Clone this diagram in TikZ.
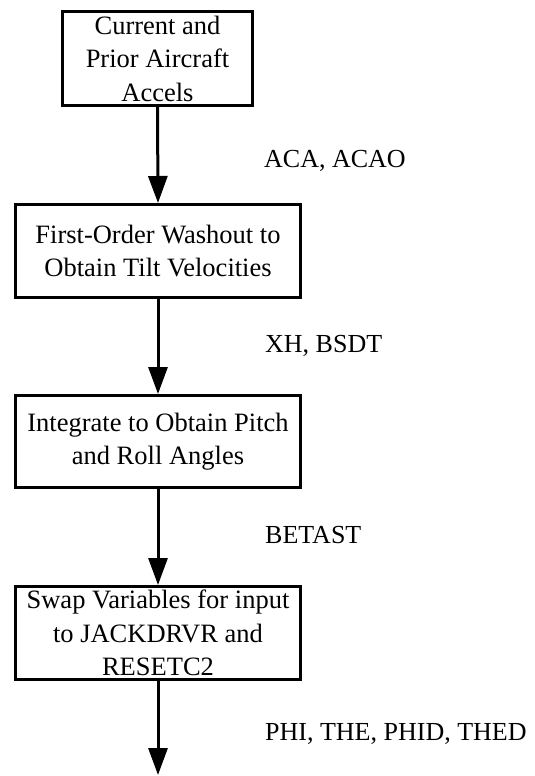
\documentclass[tikz,border=0pt]{standalone}
\usepackage{fontspec}
\setmainfont{Liberation Serif}
\usetikzlibrary{arrows.meta}
\begin{document}
\begin{tikzpicture}[x=1pt,y=-1pt,
  procbox/.style={draw=black, line width=3pt, align=center, inner sep=0pt,
    font=\fontsize{26.5}{33.5}\selectfont},
  flow/.style={line width=3pt, -{Triangle[width=19pt,length=27pt]}},
  varlabel/.style={anchor=base west, inner sep=0pt, font=\fontsize{26}{32}\selectfont}]
  \useasboundingbox (0,0) rectangle (535,776);

  \node[procbox, minimum width=190pt, minimum height=94pt] (b1) at (157.5,58.5)
    {Current and\\Prior Aircraft\\Accels};
  \node[procbox, minimum width=285pt, minimum height=93pt] (b2) at (158,251)
    {First-Order Washout to\\Obtain Tilt Velocities};
  \node[procbox, minimum width=285pt, minimum height=92pt] (b3) at (158,441.5)
    {Integrate to Obtain Pitch\\and Roll Angles};
  \node[procbox, minimum width=285pt, minimum height=93pt] (b4) at (158,633)
    {Swap Variables for input\\to JACKDRVR and\\RESETC2};
  \coordinate (out) at (158,775);

  \draw[flow] (b1.south) -- (b2.north);
  \draw[flow] (b2.south) -- (b3.north);
  \draw[flow] (b3.south) -- (b4.north);
  \draw[flow] (b4.south) -- (out);

  \node[varlabel] (l1) at (264,167) {ACA, ACAO};
  \node[varlabel] (l2) at (265,352) {XH, BSDT};
  \node[varlabel] (l3) at (265,543) {BETAST};
  \node[varlabel] (l4) at (265,740) {PHI, THE, PHID, THED};
\end{tikzpicture}
\end{document}
